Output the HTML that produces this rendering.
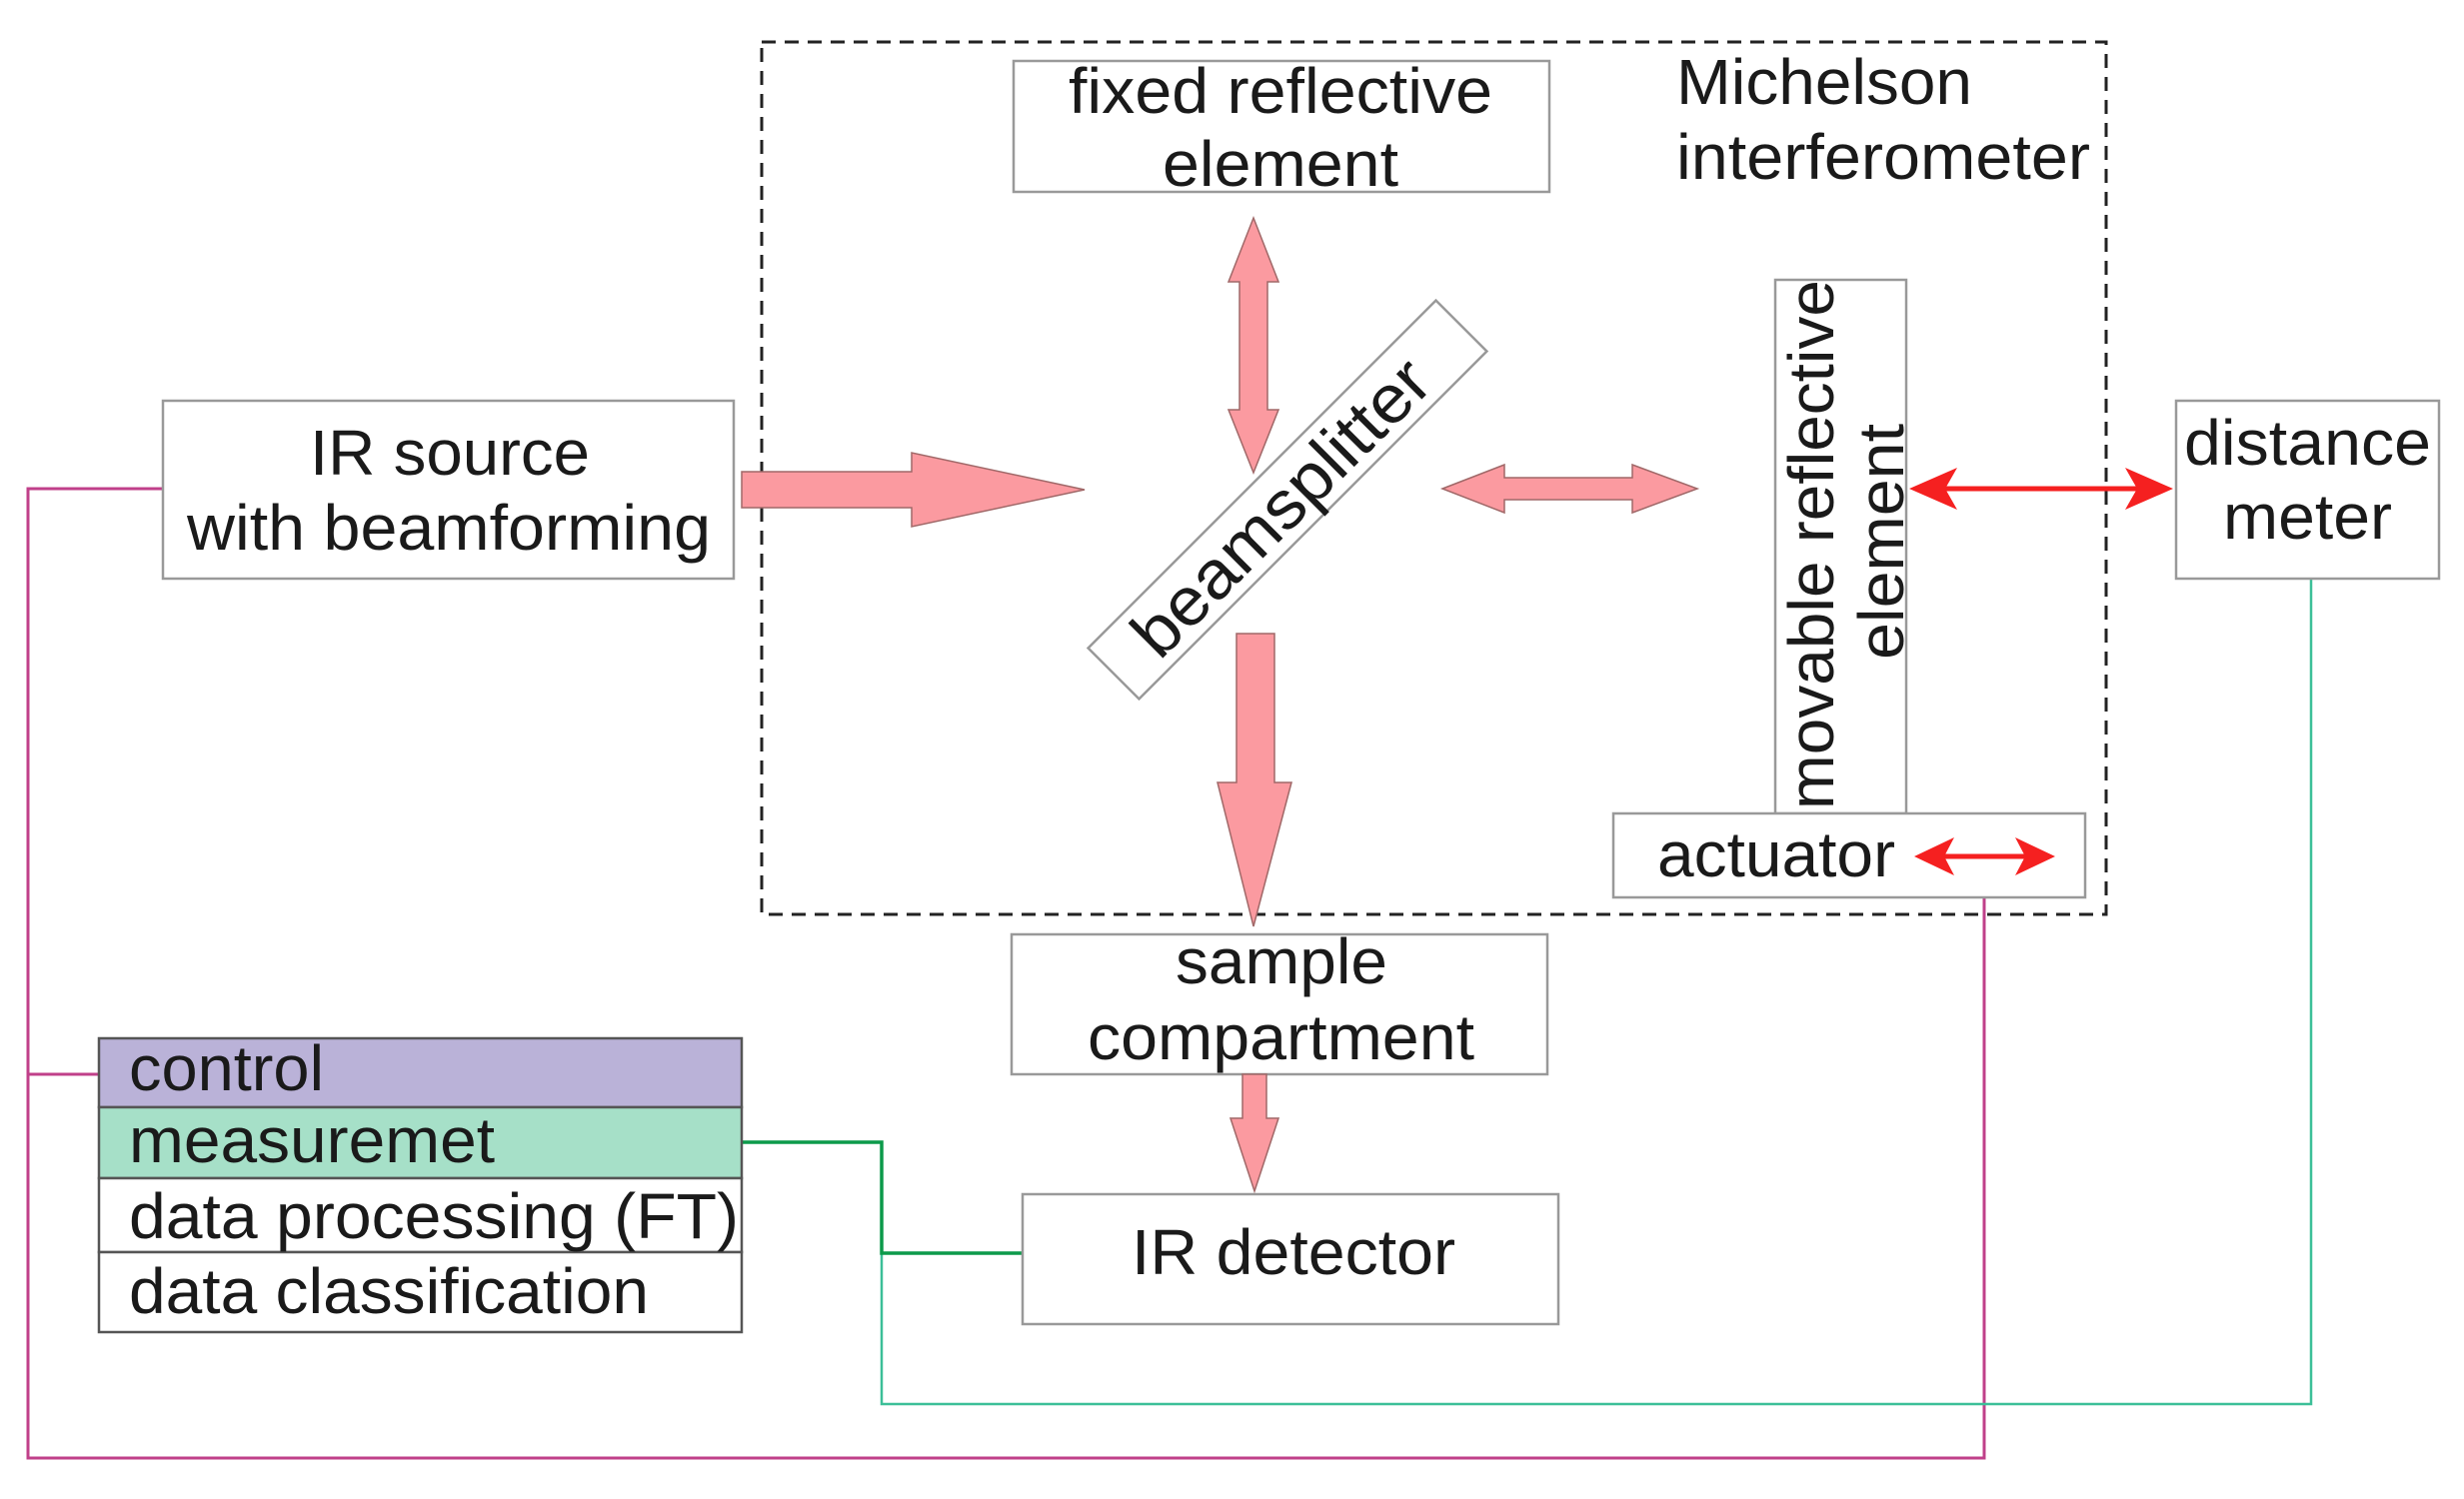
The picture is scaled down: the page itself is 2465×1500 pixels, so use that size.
<!DOCTYPE html>
<html><head><meta charset="utf-8"><style>html,body{margin:0;padding:0;background:#fff}svg{display:block}</style></head>
<body>
<svg width="2465" height="1500" viewBox="0 0 2465 1500" xmlns="http://www.w3.org/2000/svg" font-family="Liberation Sans, Arial, sans-serif" fill="#1a1a1a">
<!-- connector lines -->
<polyline points="163,489 28,489 28,1459 1985,1459 1985,898" fill="none" stroke="#c0408a" stroke-width="3"/>
<line x1="28" y1="1075" x2="99" y2="1075" stroke="#c0408a" stroke-width="3"/>
<polyline points="882,1254 882,1405 2312,1405 2312,579" fill="none" stroke="#3cbf98" stroke-width="2.5"/>
<polyline points="742,1143 882,1143 882,1254 1023,1254" fill="none" stroke="#0c9a4a" stroke-width="3.5"/>

<!-- dashed Michelson box -->
<rect x="762" y="42" width="1345" height="873" fill="none" stroke="#222" stroke-width="3" stroke-dasharray="14,9"/>

<!-- boxes -->
<g fill="#fff" stroke="#999" stroke-width="2.5">
<rect x="1014" y="61" width="536" height="131"/>
<rect x="163" y="401" width="571" height="178"/>
<rect x="2177" y="401" width="263" height="178"/>
<rect x="1776" y="280" width="131" height="534"/>
<rect x="1614" y="814" width="472" height="84"/>
<rect x="1012" y="935" width="536" height="140"/>
<rect x="1023" y="1195" width="536" height="130"/>
</g>
<rect x="99" y="1039" width="643" height="69" fill="#bab2d8" stroke="#555" stroke-width="2.5"/>
<rect x="99" y="1108" width="643" height="71" fill="#a6e0c8" stroke="#555" stroke-width="2.5"/>
<rect x="99" y="1179" width="643" height="74" fill="#fff" stroke="#555" stroke-width="2.5"/>
<rect x="99" y="1253" width="643" height="80" fill="#fff" stroke="#555" stroke-width="2.5"/>

<!-- beamsplitter -->
<g transform="translate(1288,500) rotate(-45)">
<rect x="-246" y="-36" width="492" height="72" fill="#fff" stroke="#999" stroke-width="2.5"/>
<text x="-10" y="24" font-size="68" text-anchor="middle" textLength="390" lengthAdjust="spacingAndGlyphs">beamsplitter</text>
</g>

<!-- pink arrows -->
<g fill="#fb9aa0" stroke="#a06868" stroke-width="1.5">
<polygon points="742,472 912,472 912,453 1085,490 912,527 912,508 742,508"/>
<polygon points="1254,218 1279,282 1268,282 1268,410 1279,410 1254,473 1229,410 1240,410 1240,282 1229,282"/>
<polygon points="1443,489 1505,465 1505,478 1633,478 1633,465 1698,489 1633,513 1633,500 1505,500 1505,513"/>
<polygon points="1237,634 1275,634 1275,783 1292,783 1254,927 1218,783 1237,783"/>
<polygon points="1243,1075 1267,1075 1267,1119 1279,1119 1255,1192 1231,1119 1243,1119"/>
</g>

<!-- red arrows -->
<g fill="#f52020" stroke="#f52020">
<line x1="1935" y1="489" x2="2150" y2="489" stroke-width="5"/>
<polygon points="1910,489 1958,468 1946,489 1958,510" stroke="none"/>
<polygon points="2174,489 2126,468 2138,489 2126,510" stroke="none"/>
<line x1="1935" y1="857" x2="2035" y2="857" stroke-width="5"/>
<polygon points="1915,857 1955,838 1945,857 1955,876" stroke="none"/>
<polygon points="2056,857 2016,838 2026,857 2016,876" stroke="none"/>
</g>

<!-- labels -->
<g font-size="64">
<text x="1069" y="113" textLength="424" lengthAdjust="spacingAndGlyphs">fixed reflective</text>
<text x="1163" y="186" textLength="236" lengthAdjust="spacingAndGlyphs">element</text>
<text x="1677" y="104" textLength="296" lengthAdjust="spacingAndGlyphs">Michelson</text>
<text x="1677" y="179" textLength="414" lengthAdjust="spacingAndGlyphs">interferometer</text>
<text x="310" y="475" textLength="280" lengthAdjust="spacingAndGlyphs">IR source</text>
<text x="187" y="550" textLength="524" lengthAdjust="spacingAndGlyphs">with beamforming</text>
<text x="2185" y="465" textLength="247" lengthAdjust="spacingAndGlyphs">distance</text>
<text x="2224" y="539" textLength="169" lengthAdjust="spacingAndGlyphs">meter</text>
<text x="1176" y="984" textLength="212" lengthAdjust="spacingAndGlyphs">sample</text>
<text x="1088" y="1060" textLength="387" lengthAdjust="spacingAndGlyphs">compartment</text>
<text x="1132" y="1275" textLength="324" lengthAdjust="spacingAndGlyphs">IR detector</text>
<text x="1658" y="877" textLength="238" lengthAdjust="spacingAndGlyphs">actuator</text>
<text x="129" y="1091" textLength="195" lengthAdjust="spacingAndGlyphs">control</text>
<text x="129" y="1163" textLength="366" lengthAdjust="spacingAndGlyphs">measuremet</text>
<text x="129" y="1239" textLength="610" lengthAdjust="spacingAndGlyphs">data processing (FT)</text>
<text x="129" y="1314" textLength="520" lengthAdjust="spacingAndGlyphs">data classification</text>
<text transform="translate(1834,810) rotate(-90)" textLength="530" lengthAdjust="spacingAndGlyphs">movable reflective</text>
<text transform="translate(1904,660) rotate(-90)" textLength="236" lengthAdjust="spacingAndGlyphs">element</text>
</g>
</svg>
</body></html>
